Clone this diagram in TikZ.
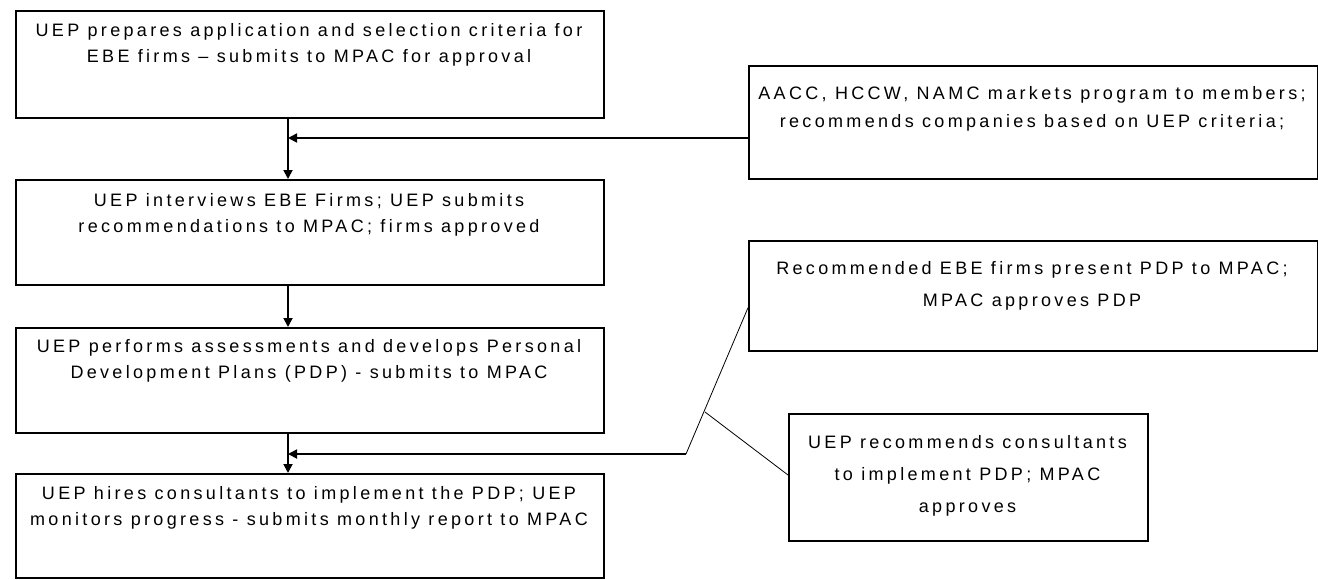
\documentclass[tikz,border=0pt]{standalone}
\usepackage{fontspec}
\setmainfont{Liberation Sans}[LetterSpace=18.5]
\usetikzlibrary{arrows.meta}
\tikzset{
  boxl/.style={draw=black, line width=1.5pt, minimum width=588pt, inner sep=0pt, anchor=north west},
  boxr/.style={draw=black, line width=1.5pt, inner sep=0pt, anchor=north west},
  lefttext/.style={align=center, font=\fontsize{18}{25.5}\selectfont, inner sep=0pt},
  righttext/.style={align=center, font=\fontsize{18}{32}\selectfont, inner sep=0pt},
  flow/.style={line width=1.8pt, -{Triangle[length=9pt,width=9pt]}},
  thin/.style={line width=0.8pt}
}
\begin{document}
\begin{tikzpicture}[x=1pt,y=-1pt]
\useasboundingbox (0,0) rectangle (1318,579);
% left column boxes
\node[boxl, minimum height=107pt] (b1) at (15,10) {};
\node[boxl, minimum height=105pt] (b2) at (15,179) {};
\node[boxl, minimum height=105pt] (b3) at (15,327) {};
\node[boxl, minimum height=104pt] (b4) at (15,473) {};
\node[lefttext] (t1) at (309,45) {UEP prepares application and selection criteria for\\EBE firms -- submits to MPAC for approval};
\node[lefttext] (t2) at (309,215) {UEP interviews EBE Firms; UEP submits\\recommendations to MPAC; firms approved};
\node[lefttext] (t3) at (309,361) {UEP performs assessments and develops Personal\\Development Plans (PDP) - submits to MPAC};
\node[lefttext] (t4) at (309,508) {UEP hires consultants to implement the PDP; UEP\\monitors progress - submits monthly report to MPAC};
% right boxes
\node[boxr, minimum width=569pt, minimum height=113pt] (r1) at (748,65) {};
\node[boxr, minimum width=569pt, minimum height=110pt] (r2) at (748,240) {};
\node[boxr, minimum width=359pt, minimum height=127pt] (r3) at (788,413) {};
\node[righttext, font=\fontsize{18}{28}\selectfont] (s1) at (1032,109) {AACC, HCCW, NAMC markets program to members;\\recommends companies based on UEP criteria;};
\node[righttext] (s2) at (1032,286) {Recommended EBE firms present PDP to MPAC;\\MPAC approves PDP};
\node[righttext] (s3) at (967.5,476) {UEP recommends consultants\\to implement PDP; MPAC\\approves};
% junctions
\coordinate (j1) at (288,138);
\coordinate (j2) at (288,454);
\coordinate (bend) at (686,454);
\coordinate (fork) at (705,412);
\coordinate (r3in) at (788,475);
% vertical flow
\draw[flow] (b1.south -| j1) -- (b2.north -| j1);
\draw[flow] (b2.south -| j1) -- (b3.north -| j1);
\draw[flow] (b3.south -| j1) -- (b4.north -| j1);
% side inputs
\draw[flow] (j1 -| r1.west) -- (j1);
\draw[flow] (bend) -- (j2);
\draw[thin] ([yshift=-12pt]r2.west) -- (bend);
\draw[thin] (fork) -- (r3in);
\end{tikzpicture}
\end{document}
